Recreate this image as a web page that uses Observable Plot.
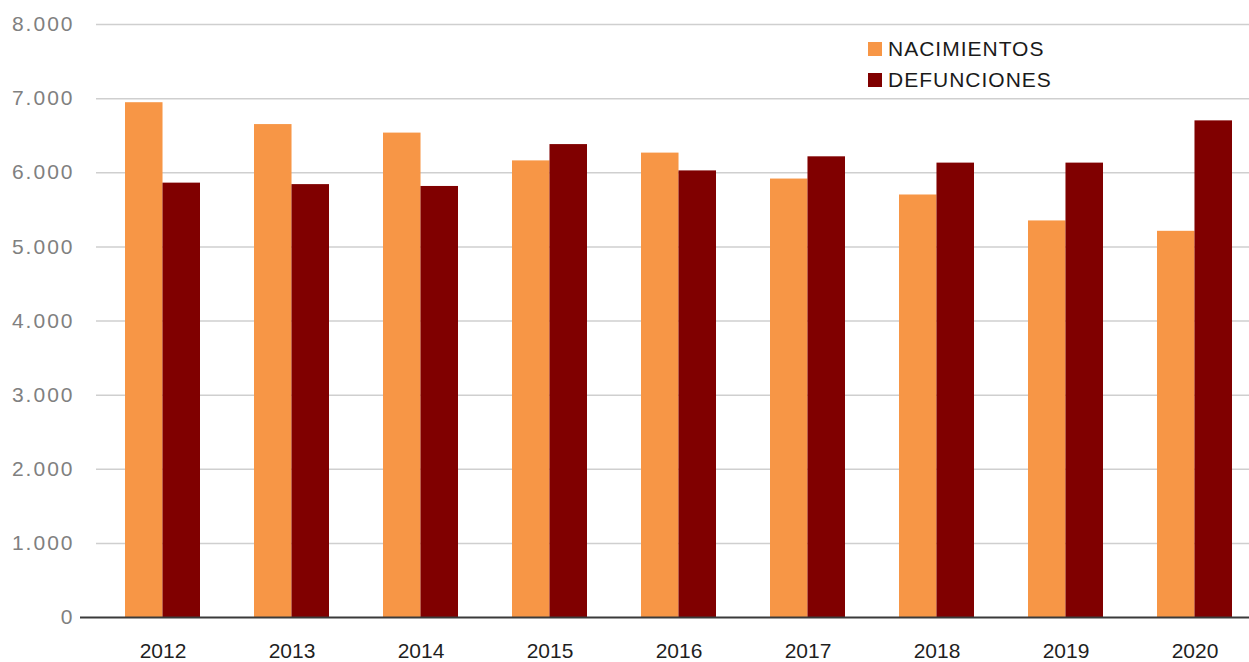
<!DOCTYPE html>
<html>
<head>
<meta charset="utf-8">
<script src="https://cdn.jsdelivr.net/npm/d3@7"></script>
<script src="https://cdn.jsdelivr.net/npm/@observablehq/plot@0.6"></script>
<style>
  html, body { margin: 0; padding: 0; background: #fff; }
  #wrap { position: relative; width: 1249px; height: 662px; overflow: hidden; }
  .legend { position: absolute; left: 868px; top: 33px; font-family: "Liberation Sans", Arial, sans-serif; font-size: 21px; letter-spacing: 1px; color: #1a1a1a; }
  .legend .row { display: flex; align-items: center; height: 31px; }
  .legend .sw { width: 14px; height: 14px; margin-right: 6px; }
  .yax text { letter-spacing: 2px; }
</style>
</head>
<body>
<div id="wrap"></div>
<script>
const years = ["2012","2013","2014","2015","2016","2017","2018","2019","2020"];
const nacimientos = [6945, 6650, 6535, 6160, 6265, 5915, 5700, 5350, 5210];
const defunciones = [5860, 5840, 5815, 6380, 6025, 6215, 6130, 6130, 6700];
const seriesNames = ["NACIMIENTOS", "DEFUNCIONES"];
const seriesColors = ["#F79646", "#800000"];
const yTicks = [0, 1000, 2000, 3000, 4000, 5000, 6000, 7000, 8000];

const fmt = d3.formatLocale({decimal: ",", thousands: ".", grouping: [3], currency: ["", "€"]}).format(",d");

const dataN = years.map((y, i) => ({year: y, value: nacimientos[i]}));
const dataD = years.map((y, i) => ({year: y, value: defunciones[i]}));

const W = 1249, H = 662;
const step = (1259.6 - 96.4) / 9;
const bw = step * (1 - 0.42);

const chart = Plot.plot({
  width: W,
  height: H,
  marginLeft: 96,
  marginRight: 0,
  marginTop: 24,
  marginBottom: 45,
  style: {fontFamily: "Liberation Sans, Arial, sans-serif", background: "#fff"},
  x: {domain: years, range: [96.4, 1259.6], paddingInner: 0.42, paddingOuter: 0.21},
  y: {domain: [0, 8000]},
  marks: [
    Plot.ruleY(yTicks.filter(d => d > 0), {stroke: "#cfcfcf", strokeWidth: 1.5}),
    Plot.barY(dataN, {x: "year", y: "value", fill: seriesColors[0], insetRight: bw / 2}),
    Plot.barY(dataD, {x: "year", y: "value", fill: seriesColors[1], insetLeft: bw / 2}),
    Plot.ruleY([0], {stroke: "#3a3a3a", strokeWidth: 2, insetLeft: -16}),
    Plot.axisY({ticks: yTicks, tickFormat: fmt, tickSize: 0, tickPadding: 22, fontSize: 21, fill: "#808080", label: null, className: "yax"}),
    Plot.axisX({tickSize: 0, tickPadding: 26, fontSize: 21, fill: "#1f1f1f", label: null})
  ]
});

const wrap = document.getElementById("wrap");
wrap.appendChild(chart);

const legend = document.createElement("div");
legend.className = "legend";
seriesNames.forEach((name, i) => {
  const row = document.createElement("div");
  row.className = "row";
  const sw = document.createElement("span");
  sw.className = "sw";
  sw.style.background = seriesColors[i];
  const t = document.createElement("span");
  t.textContent = name;
  row.appendChild(sw);
  row.appendChild(t);
  legend.appendChild(row);
});
wrap.appendChild(legend);
</script>
</body>
</html>
